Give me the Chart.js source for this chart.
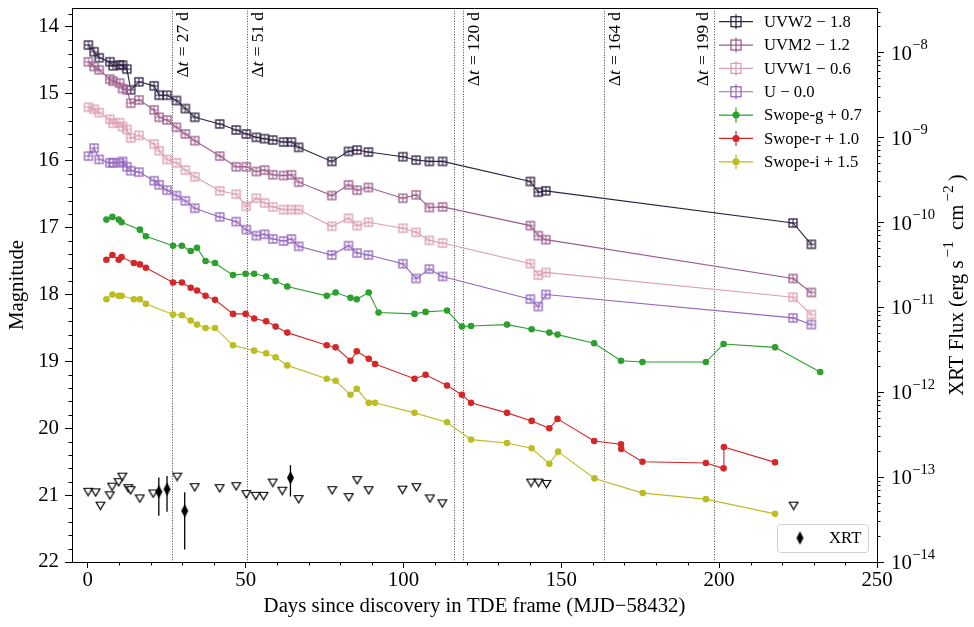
<!DOCTYPE html>
<html><head><meta charset="utf-8">
<script src="https://cdn.jsdelivr.net/npm/chart.js@4.4.1/dist/chart.umd.min.js"></script>
<style>html,body{margin:0;padding:0;background:#fff}#wrap{width:974px;height:627px}</style>
</head><body><div id="wrap"><canvas id="c" width="974" height="627"></canvas></div>
<script>
// ---------------- data (plotted, offset-applied magnitudes) ----------------
const uvDays = [0.2, 2.0, 3.6, 7.0, 8.0, 10.1, 11.0, 12.4, 13.6, 16.2, 21.0, 22.6, 25.1, 28.1, 30.9, 33.9,
  41.8, 47.0, 50.2, 53.4, 56.0, 58.6, 62.0, 64.5, 66.8, 77.3, 82.6, 85.3, 88.9, 99.8, 104.0, 108.2, 112.4,
  140.2, 142.7, 145.1, 223.4, 229.2];
const uvw2Mag = [14.27, 14.37, 14.46, 14.52, 14.58, 14.57, 14.57, 14.63, 14.94, 14.82, 14.88, 15.02, 15.02, 15.10, 15.22, 15.35,
  15.45, 15.54, 15.60, 15.65, 15.67, 15.69, 15.72, 15.72, 15.80, 16.01, 15.86, 15.84, 15.87, 15.94, 15.99, 16.01, 16.01,
  16.31, 16.47, 16.45, 16.93, 17.25];
const uvm2Mag = [14.52, 14.59, 14.64, 14.78, 14.81, 14.84, 14.92, 14.94, 15.14, 15.09, 15.24, 15.35, 15.39, 15.50, 15.60, 15.70,
  15.93, 16.09, 16.09, 16.16, 16.14, 16.21, 16.22, 16.21, 16.32, 16.52, 16.36, 16.44, 16.40, 16.56, 16.51, 16.70, 16.69,
  16.97, 17.12, 17.18, 17.76, 17.97];
const uvw1Mag = [15.20, 15.23, 15.28, 15.38, 15.44, 15.43, 15.49, 15.53, 15.66, 15.62, 15.75, 15.85, 15.98, 16.03, 16.14, 16.24,
  16.45, 16.50, 16.68, 16.56, 16.63, 16.69, 16.73, 16.73, 16.73, 16.98, 16.86, 16.97, 16.92, 17.01, 17.07, 17.19, 17.23,
  17.54, 17.71, 17.67, 18.04, 18.30];
const uMag = [15.93, 15.81, 15.98, 16.03, 16.03, 16.03, 16.01, 16.09, 16.15, 16.17, 16.30, 16.36, 16.44, 16.52, 16.60, 16.71,
  16.84, 16.91, 17.03, 17.12, 17.10, 17.17, 17.20, 17.17, 17.28, 17.41, 17.27, 17.38, 17.41, 17.54, 17.76, 17.62, 17.73,
  18.07, 18.18, 18.00, 18.35, 18.45];

const gDays = [5.9, 7.8, 9.8, 10.7, 16.5, 18.4, 27.0, 29.8, 32.6, 34.6, 37.3, 40.3, 46.0, 50.0, 52.7, 56.5, 59.5, 63.2,
  75.7, 78.5, 83.2, 85.2, 89.0, 92.1, 103.5, 107.0, 113.8, 118.5, 121.4, 132.8, 140.6, 146.2, 148.8,
  160.4, 168.9, 175.7, 195.8, 201.4, 217.7, 232.0];
const gMag = [16.88, 16.84, 16.88, 16.92, 17.03, 17.13, 17.27, 17.27, 17.35, 17.30, 17.50, 17.53, 17.71, 17.69, 17.69, 17.73, 17.80, 17.88,
  18.02, 17.97, 18.05, 18.07, 17.97, 18.27, 18.29, 18.26, 18.24, 18.48, 18.47, 18.45, 18.52, 18.57, 18.60,
  18.73, 18.99, 19.01, 19.01, 18.74, 18.79, 19.16];

const rDays = [5.9, 7.8, 9.8, 10.7, 14.6, 16.5, 18.4, 27.0, 29.8, 32.6, 34.6, 37.3, 40.3, 46.0, 50.0, 52.7, 56.5, 59.5, 63.2,
  75.7, 78.5, 83.2, 85.2, 89.0, 91.0, 103.5, 107.0, 113.8, 118.5, 121.4, 132.8, 140.6, 146.2, 148.8,
  160.4, 168.9, 169.0, 175.7, 195.8, 201.4, 201.5, 217.7];
const rMag = [17.48, 17.41, 17.48, 17.44, 17.53, 17.55, 17.60, 17.82, 17.82, 17.90, 17.94, 18.02, 18.08, 18.29, 18.29, 18.36, 18.40, 18.48, 18.57,
  18.76, 18.79, 18.99, 18.85, 18.96, 19.04, 19.26, 19.20, 19.36, 19.50, 19.62, 19.77, 19.89, 20.00, 19.86,
  20.19, 20.24, 20.31, 20.50, 20.52, 20.60, 20.28, 20.51];

const iDays = [5.9, 7.8, 9.8, 10.7, 14.6, 16.5, 18.4, 27.0, 29.8, 32.6, 34.6, 37.3, 40.3, 46.0, 52.7, 56.5, 59.5, 63.2,
  75.7, 78.5, 83.2, 85.2, 89.0, 91.0, 103.5, 113.8, 121.4, 132.8, 140.6, 146.2, 149.0, 160.5, 175.8, 195.8, 217.7];
const iMag = [18.07, 18.00, 18.02, 18.02, 18.07, 18.07, 18.14, 18.30, 18.31, 18.39, 18.45, 18.50, 18.50, 18.76, 18.84, 18.88, 18.94, 19.06,
  19.26, 19.29, 19.50, 19.41, 19.62, 19.62, 19.77, 19.91, 20.17, 20.22, 20.30, 20.53, 20.35, 20.75, 20.97, 21.06, 21.28];

// XRT (erg s^-1 cm^-2)
const xrtLimDays = [0.1, 2.5, 4.0, 7.0, 7.7, 9.8, 10.9, 12.8, 13.6, 16.5, 20.7, 28.3, 33.9, 41.8, 47.0, 50.2, 53.2, 55.7,
  58.6, 61.6, 66.8, 77.4, 82.7, 85.3, 89.0, 99.7, 104.1, 108.4, 112.3, 140.4, 142.8, 145.3, 223.6];
const xrtLimFlux = [6.7e-14, 6.6e-14, 4.6e-14, 6.1e-14, 7.7e-14, 8.7e-14, 1.01e-13, 7.4e-14, 7.0e-14, 5.6e-14, 6.4e-14, 1.01e-13,
  7.6e-14, 7.4e-14, 7.8e-14, 6.3e-14, 6.0e-14, 6.0e-14, 8.6e-14, 6.9e-14, 5.5e-14, 7.0e-14, 5.8e-14, 9.2e-14, 7.0e-14,
  7.1e-14, 7.6e-14, 5.6e-14, 4.9e-14, 8.6e-14, 8.6e-14, 8.3e-14, 4.6e-14];
const xrtDetDays = [22.5, 25.1, 30.7, 64.2];
const xrtDetFlux = [6.7e-14, 7.2e-14, 4.0e-14, 9.8e-14];
const xrtDetLow = [3.5e-14, 3.9e-14, 1.4e-14, 5.9e-14];
const xrtDetHigh = [9.9e-14, 1.03e-13, 6.6e-14, 1.38e-13];

// epochs marked with dotted lines
const epochDays = [26.6, 50.5, 116.1, 119.0, 163.5, 198.3];
const epochLabels = ['27', '51', '', '120', '164', '199'];

const xTicks = [0, 50, 100, 150, 200, 250];
const magTicks = [14, 15, 16, 17, 18, 19, 20, 21, 22];
const fluxExponents = [-14, -13, -12, -11, -10, -9, -8];

const seriesNames = ['UVW2 \u2212 1.8', 'UVM2 \u2212 1.2', 'UVW1 \u2212 0.6', 'U \u2212 0.0',
  'Swope-g + 0.7', 'Swope-r + 1.0', 'Swope-i + 1.5'];
const xrtName = 'XRT';

// ---------------- styling ----------------
const FONT = "'Liberation Serif', 'Times New Roman', serif";
const COLORS = ['#2e2142', '#9c5c8c', '#dc9fb2', '#9467bd', '#2ca02c', '#d62728', '#bcbd22'];
Chart.defaults.font.family = FONT;
Chart.defaults.color = '#000';

function mk(w, h, fn) { const c = document.createElement('canvas'); c.width = w; c.height = h; fn(c.getContext('2d')); return c; }
function sqImg(col, s) {
  const n = s + 4;
  return mk(n, n, g => {
    g.strokeStyle = col; g.lineWidth = 1.3; g.strokeRect(2, 2, s, s);
    g.lineWidth = 1; g.beginPath(); g.moveTo(n / 2, 2); g.lineTo(n / 2, n - 2); g.moveTo(2, n / 2); g.lineTo(n - 2, n / 2); g.stroke();
  });
}
const triImg = mk(11, 10, g => {
  g.beginPath(); g.moveTo(1.2, 1.5); g.lineTo(9.8, 1.5); g.lineTo(5.5, 8.8); g.closePath();
  g.fillStyle = '#fff'; g.fill(); g.strokeStyle = '#000'; g.lineWidth = 1.2; g.stroke();
});
const diaImg = mk(9, 15, g => {
  g.beginPath(); g.moveTo(4.5, 0.8); g.lineTo(8, 7.5); g.lineTo(4.5, 14.2); g.lineTo(1, 7.5); g.closePath();
  g.fillStyle = '#000'; g.fill();
});

const uvMags = [uvw2Mag, uvm2Mag, uvw1Mag, uMag];
const datasets = [];
uvMags.forEach((m, k) => {
  datasets.push({
    label: seriesNames[k], data: uvDays.map((d, i) => ({ x: d, y: m[i] })), yAxisID: 'y',
    showLine: true, borderColor: COLORS[k], borderWidth: 1.1, pointStyle: sqImg(COLORS[k], 8), pointRadius: 5,
    order: 10 - k
  });
});
[[gDays, gMag], [rDays, rMag], [iDays, iMag]].forEach(([ds, ms], j) => {
  const k = j + 4;
  datasets.push({
    label: seriesNames[k], data: ds.map((d, i) => ({ x: d, y: ms[i] })), yAxisID: 'y',
    showLine: true, borderColor: COLORS[k], borderWidth: 1.1, backgroundColor: COLORS[k],
    pointStyle: 'circle', pointRadius: 3.3, pointBorderWidth: 0, order: 10 - k
  });
});
datasets.push({ label: 'XRT limits', data: xrtLimDays.map((d, i) => ({ x: d, y: xrtLimFlux[i] })), yAxisID: 'y2',
  showLine: false, pointStyle: triImg, pointRadius: 5, order: 1 });
datasets.push({ label: xrtName, data: xrtDetDays.map((d, i) => ({ x: d, y: xrtDetFlux[i] })), yAxisID: 'y2',
  showLine: false, pointStyle: diaImg, pointRadius: 5, order: 0 });

function seg(ctx, parts, x, y) { // parts: [text, font, dy, gapAfter]
  let cx = x;
  for (const [t, f, dy, gap] of parts) { ctx.font = f; ctx.fillText(t, cx, y + (dy || 0)); cx += ctx.measureText(t).width + (gap || 0); }
  return cx;
}
function segWidth(ctx, parts) { let w = 0; for (const [t, f, dy, gap] of parts) { ctx.font = f; w += ctx.measureText(t).width + (gap || 0); } return w; }

const F = s => s + 'px ' + FONT;
const FI = s => 'italic ' + s + 'px ' + FONT;

function zeroPad(s) { s.paddingTop = 0; s.paddingBottom = 0; s.paddingLeft = 0; s.paddingRight = 0; }

const deco = {
  id: 'deco',
  beforeDatasetsDraw(chart) {
    const { ctx, chartArea: a, scales } = chart;
    ctx.save();
    ctx.strokeStyle = '#444'; ctx.lineWidth = 1; ctx.setLineDash([1, 1.6]);
    epochDays.forEach(d => {
      const x = Math.round(scales.x.getPixelForValue(d)) + 0.5;
      ctx.beginPath(); ctx.moveTo(x, a.top); ctx.lineTo(x, a.bottom); ctx.stroke();
    });
    ctx.setLineDash([]);
    ctx.strokeStyle = '#000'; ctx.lineWidth = 1.3;
    xrtDetDays.forEach((d, i) => {
      const x = scales.x.getPixelForValue(d);
      ctx.beginPath(); ctx.moveTo(x, scales.y2.getPixelForValue(xrtDetLow[i])); ctx.lineTo(x, scales.y2.getPixelForValue(xrtDetHigh[i])); ctx.stroke();
    });
    ctx.restore();
  },
  afterDraw(chart) {
    const { ctx, chartArea: a, scales } = chart;
    ctx.save();
    ctx.strokeStyle = '#000'; ctx.lineWidth = 1;
    ctx.beginPath(); ctx.moveTo(a.left, a.top + 0.5); ctx.lineTo(a.right, a.top + 0.5); ctx.stroke();
    // minor ticks
    ctx.beginPath();
    for (let v = 0; v <= 250; v += 10) {
      if (v % 50 === 0) continue;
      const x = Math.round(scales.x.getPixelForValue(v)) + 0.5;
      ctx.moveTo(x, a.bottom); ctx.lineTo(x, a.bottom + 3.5);
    }
    for (let k = 69; k <= 110; k++) {
      const v = k / 5; if (k % 5 === 0) continue;
      const y = Math.round(scales.y.getPixelForValue(v)) + 0.5;
      if (y < a.top) continue;
      ctx.moveTo(a.left, y); ctx.lineTo(a.left - 3.5, y);
    }
    for (let e = -14; e <= -8; e++) {
      for (let m = 2; m <= 9; m++) {
        const v = m * Math.pow(10, e);
        const y = Math.round(scales.y2.getPixelForValue(v)) + 0.5;
        if (y < a.top || y > a.bottom) continue;
        ctx.moveTo(a.right, y); ctx.lineTo(a.right + 3.5, y);
      }
    }
    ctx.stroke();
    // right tick labels 10^n
    ctx.fillStyle = '#000'; ctx.textAlign = 'left'; ctx.textBaseline = 'middle';
    fluxExponents.forEach(e => {
      const y = scales.y2.getPixelForValue(Math.pow(10, e));
      ctx.font = F(20.8); ctx.fillText('10', a.right + 14, y + 2);
      const w = ctx.measureText('10').width;
      ctx.font = F(14.6); ctx.fillText('\u2212' + Math.abs(e), a.right + 14 + w + 0.5, y - 7);
    });
    // axis titles
    ctx.font = F(20.8); ctx.textAlign = 'center'; ctx.textBaseline = 'middle';
    ctx.fillText('Days since discovery in TDE frame (MJD\u221258432)', (a.left + a.right) / 2, 607);
    ctx.save(); ctx.translate(18, (a.top + a.bottom) / 2); ctx.rotate(-Math.PI / 2);
    ctx.fillText('Magnitude', 0, 0); ctx.restore();
    // right title (mathtext-like spacing)
    const rt = [['XRT Flux (erg s', F(20.8), 0, 3], ['\u22121', F(15.5), -9, 11], ['cm', F(20.8), 0, 3], ['\u22122', F(15.5), -9, 4], [')', F(20.8), 0, 0]];
    ctx.save(); ctx.translate(958, (a.top + a.bottom) / 2); ctx.rotate(-Math.PI / 2);
    ctx.textAlign = 'left'; ctx.textBaseline = 'middle';
    const rw = segWidth(ctx, rt); seg(ctx, rt, -rw / 2, 0);
    ctx.restore();
    // epoch labels
    const ef = 17.3;
    epochDays.forEach((d, i) => {
      if (!epochLabels[i]) return;
      const x = Math.round(scales.x.getPixelForValue(d)) + 0.5;
      const rest = ' = ' + epochLabels[i] + ' d';
      ctx.font = F(ef); let w = ctx.measureText('\u0394').width + ctx.measureText(rest).width + 1;
      ctx.font = FI(ef); w += ctx.measureText('t').width;
      ctx.save();
      const left = i === epochDays.length - 1;
      ctx.translate(left ? x - 2 : x + 2, a.top + 4); ctx.rotate(-Math.PI / 2);
      ctx.textAlign = 'left'; ctx.textBaseline = left ? 'bottom' : 'top';
      let cx = -w;
      ctx.font = F(ef); ctx.fillText('\u0394', cx, 0); cx += ctx.measureText('\u0394').width;
      ctx.font = FI(ef); ctx.fillText('t', cx, 0); cx += ctx.measureText('t').width + 1;
      ctx.font = F(ef); ctx.fillText(rest, cx, 0);
      ctx.restore();
    });
    // legend (upper right)
    const lx0 = 719, lx1 = 753, lmx = 736, ltx = 764;
    seriesNames.forEach((name, k) => {
      const y = 21.7 + k * 23.35;
      ctx.strokeStyle = COLORS[k]; ctx.lineWidth = 1.2;
      ctx.beginPath(); ctx.moveTo(lx0, y); ctx.lineTo(lx1, y); ctx.moveTo(lmx, y - 7.5); ctx.lineTo(lmx, y + 7.5); ctx.stroke();
      if (k < 4) { ctx.lineWidth = 1.3; ctx.strokeRect(lmx - 5, y - 5, 10, 10); }
      else { ctx.fillStyle = COLORS[k]; ctx.beginPath(); ctx.arc(lmx, y, 3.5, 0, Math.PI * 2); ctx.fill(); }
      ctx.fillStyle = '#000'; ctx.font = F(16.7); ctx.textAlign = 'left'; ctx.textBaseline = 'middle';
      ctx.fillText(name, ltx, y + 1);
    });
    // XRT legend box
    ctx.fillStyle = 'rgba(255,255,255,0.8)'; ctx.strokeStyle = '#d0d0d0'; ctx.lineWidth = 1;
    ctx.beginPath(); ctx.roundRect(777.5, 524.5, 91, 28, 3); ctx.fill(); ctx.stroke();
    ctx.drawImage(diaImg, 800 - 4.5, 538 - 7.5);
    ctx.fillStyle = '#000'; ctx.font = F(16.7); ctx.textAlign = 'left'; ctx.textBaseline = 'middle';
    ctx.fillText(xrtName, 829, 539);
    ctx.restore();
  }
};

new Chart(document.getElementById('c'), {
  type: 'scatter',
  data: { datasets },
  options: {
    responsive: false, animation: false, devicePixelRatio: 1,
    layout: { padding: { top: 8, left: 0, right: 0, bottom: 0 } },
    plugins: { legend: { display: false }, tooltip: { enabled: false } },
    scales: {
      x: {
        type: 'linear', position: 'bottom', min: -5, max: 250,
        afterBuildTicks: s => { s.ticks = xTicks.map(v => ({ value: v })); },
        afterFit: s => { s.height = 65; zeroPad(s); },
        grid: { drawOnChartArea: false, drawTicks: true, tickLength: 6, color: '#000', lineWidth: 1 },
        border: { display: true, color: '#000', width: 1 },
        ticks: { font: { size: 20.8 }, color: '#000', padding: 0, maxRotation: 0 }
      },
      y: {
        type: 'linear', position: 'left', min: 13.716, max: 22, reverse: true,
        afterBuildTicks: s => { s.ticks = magTicks.map(v => ({ value: v })); },
        afterFit: s => { s.width = 72; zeroPad(s); },
        grid: { drawOnChartArea: false, drawTicks: true, tickLength: 7, color: '#000', lineWidth: 1 },
        border: { display: true, color: '#000', width: 1 },
        ticks: { font: { size: 20.8 }, color: '#000', padding: 6 }
      },
      y2: {
        type: 'logarithmic', position: 'right', min: 1e-14, max: 3.3e-8,
        afterBuildTicks: s => { s.ticks = fluxExponents.map(e => ({ value: Math.pow(10, e), major: true })); },
        afterFit: s => { s.width = 97; zeroPad(s); },
        grid: { drawOnChartArea: false, drawTicks: true, tickLength: 7, color: '#000', lineWidth: 1 },
        border: { display: true, color: '#000', width: 1 },
        ticks: { display: false }
      }
    }
  },
  plugins: [deco]
});
</script></body></html>
